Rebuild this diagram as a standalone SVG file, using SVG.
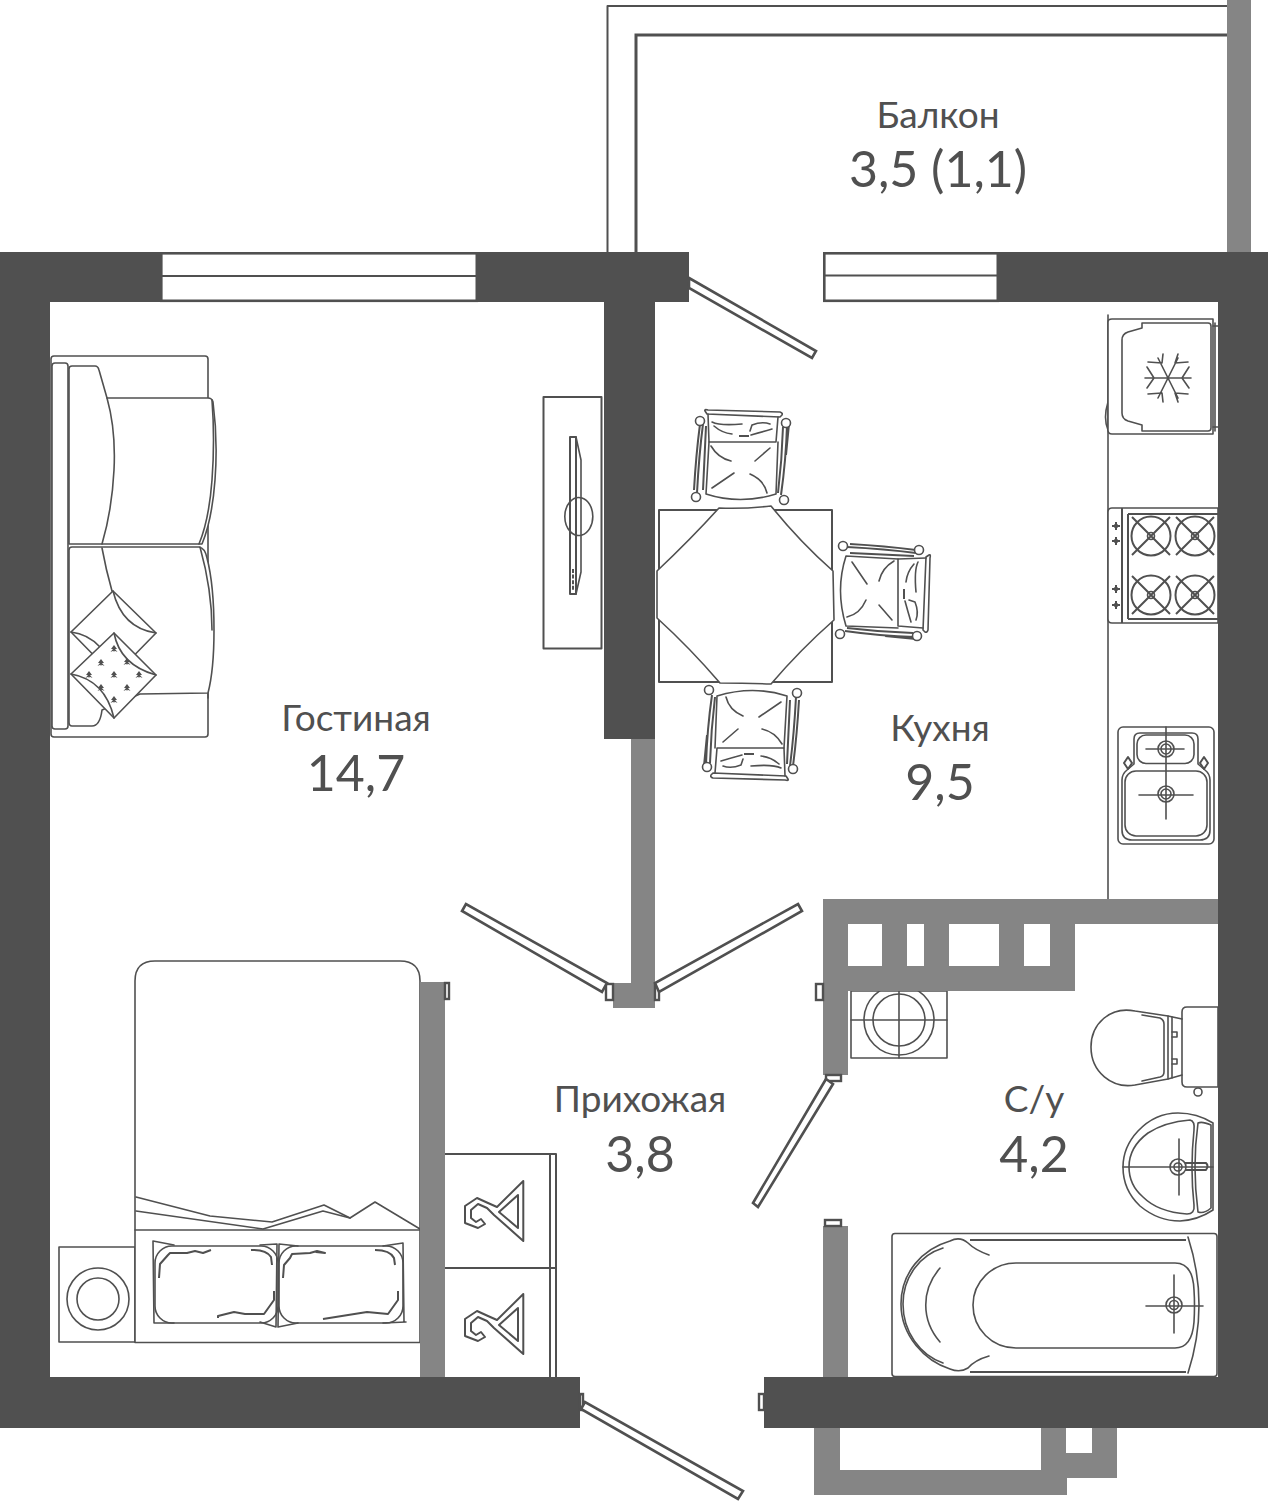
<svg xmlns="http://www.w3.org/2000/svg" xmlns:xlink="http://www.w3.org/1999/xlink" width="1268" height="1502" viewBox="0 0 1268 1502">
<style>
.d{fill:#505050}.g{fill:#858585}
.l{fill:none;stroke:#505050;stroke-width:1.6;stroke-linejoin:round;stroke-linecap:round}
.m{fill:none;stroke:#505050;stroke-width:2;stroke-linejoin:round}
.f{fill:#fff;stroke:#505050;stroke-width:1.6;stroke-linejoin:round}
.w{fill:#fff;stroke:#505050;stroke-width:2.6}
.dr{fill:#fff;stroke:#505050;stroke-width:2.6;stroke-linejoin:miter}
.j{fill:#fff;stroke:#505050;stroke-width:2.4}
.t1{font-family:Lato,"Liberation Sans",sans-serif;font-weight:400;font-size:37px;fill:#505050;text-anchor:middle}
.t2{font-family:Lato,"Liberation Sans",sans-serif;font-weight:400;font-size:50px;fill:#505050;text-anchor:middle}
</style>
<defs>
<g id="chair">
<path class="l" d="M705,411 Q704,409 708,410 L780,412 Q783,413 782,415 L780,417 L707,414 Z" stroke-width="2"/>
<path class="l" d="M708,414 L709,442 H776 L778,417"/>
<path class="l" d="M709,442 L706,494 Q740,505 776,494 L778,442"/>
<path class="m" d="M703,424 Q699,455 697,493 M700,424 Q696,455 694,490 M706,426 L703,490"/>
<path class="m" d="M787,425 Q786,460 781,495 M783,427 Q782,460 778,493 M789,424 L786,455"/>
<circle class="f" cx="700" cy="421" r="4.5"/><circle class="f" cx="786" cy="423" r="4.5"/>
<circle class="f" cx="696" cy="497" r="4.5"/><circle class="f" cx="784" cy="500" r="4.5"/>
<path class="l" d="M712,422 Q720,426 742,424 M714,426 Q722,433 732,434 M752,425 Q762,421 770,424 M751,435 Q762,432 772,429 M750,431 L752,425"/>
<path class="m" d="M739,436 H749" stroke-width="2.4"/>
<path class="l" d="M711,446 Q718,458 731,461 M770,448 L755,461 M734,473 L712,488 M750,474 Q764,480 767,493"/>
</g>
<path id="star" class="d" d="M0,-4 L3,0 L1,0 L3.5,3 L0.7,1.8 L0,3 L-0.7,1.8 L-3.5,3 L-1,0 L-3,0 Z"/>
<g id="hanger">
<path class="m" d="M523.3,1181 L497,1207 L488,1203 L477,1198 L465,1206 L465,1223 L478,1228 L485,1224 L481,1219 L476,1222 L471,1218 L471,1210 L478,1204 L487,1208 L494,1215 L523.3,1241 Z"/>
<path class="m" d="M518,1195 L499,1212 L518,1228 Z"/>
</g>
<g id="knob"><path class="m" d="M-4,0 H4 M0,-4 V4"/><circle class="d" r="2.2"/></g>
<g id="burner"><circle class="m" r="19.500" stroke-width="1.6"/><circle class="l" r="3.5" stroke-width="2"/><path class="m" stroke-width="1.6" d="M-19,-19 L19,19 M-19,19 L19,-19"/></g>
</defs>

<g id="balcony">
<path class="m" stroke="#6a6a6a" d="M607.5,252 V6 H1227"/>
<path fill="none" stroke="#505050" stroke-width="3" d="M636,252 V35 H1227"/>
<rect class="g" x="1227" y="0" width="24" height="252"/>
</g>

<g id="kitchen-furniture">
<path class="l" d="M1108,315 V899"/>
<path class="l" d="M1108,402 Q1103,418 1108,430"/>
<path class="f" d="M1108,322 Q1108,319 1112,319 H1213 V434 H1112 Q1108,434 1108,430 Z"/>
<path class="l" d="M1213,326 H1218 M1213,427 H1218 M1215,323 V431"/>
<path class="l" d="M1142,323 V328 L1128,332 Q1122,334 1122,340 V413 Q1122,419 1128,421 L1142,425 V431 H1208 Q1211,431 1211,428 V326 Q1211,323 1208,323 Z"/>
<path class="l" d="M1145,378 H1191 M1158,358 L1178,398 M1178,358 L1158,398 M1147,367 L1154,378 L1147,388 M1189,367 L1182,378 L1189,388 M1148,362 L1162,363 L1163,354 M1178,354 L1175,363 L1188,362 M1148,394 L1162,393 L1163,402 M1178,402 L1175,393 L1188,394"/>
<path class="f" d="M1112,508 H1218 V623 H1112 Q1108,623 1108,619 V512 Q1108,508 1112,508 Z"/>
<path class="m" d="M1122,508 V623 M1128,514 V619 M1128,514 H1218 M1128,619 H1218"/>
<use href="#burner" x="1151" y="536"/><use href="#burner" x="1195" y="536"/>
<use href="#burner" x="1151" y="595"/><use href="#burner" x="1195" y="595"/>
<use href="#knob" x="1116" y="526"/><use href="#knob" x="1116" y="541"/>
<use href="#knob" x="1116" y="589"/><use href="#knob" x="1116" y="605"/>
<rect class="f" x="1118" y="727" width="96" height="117" rx="5"/>
<path class="l" d="M1134,739 Q1134,733 1140,733 H1192 Q1198,733 1198,739 V764 L1205,770 Q1210,774 1210,780 V830 Q1210,840 1200,840 H1132 Q1122,840 1122,830 V780 Q1122,774 1127,770 L1134,764 Z"/>
<rect class="l" x="1137" y="735" width="57" height="28.5" rx="9"/>
<rect class="l" x="1125" y="771" width="82" height="65" rx="11"/>
<path class="l" d="M1166,727 V819 M1146,749 H1184 M1139,795 H1193"/>
<circle class="l" cx="1166" cy="749" r="8"/><circle class="l" cx="1166" cy="749" r="5"/>
<circle class="l" cx="1166" cy="794" r="8"/><circle class="l" cx="1166" cy="794" r="5"/>
<path class="m" d="M1128,757 L1132,763 L1128,769 L1124,763 Z M1204,757 L1208,763 L1204,769 L1200,763 Z" stroke-width="1.4"/>
</g>

<g id="table">
<rect class="m" x="659" y="510" width="173" height="172"/>
<path class="f" d="M719,508 Q745,509 771,506 Q800,542 833,571 L834,620 Q800,650 771,684 Q745,683 720,683 Q690,648 657,618 L657,571 Q690,540 719,508 Z"/>
</g>
<g id="chairs">
<use href="#chair"/>
<use href="#chair" transform="rotate(90 885 593) translate(142 138)"/>
<use href="#chair" transform="rotate(180 749.500 736) translate(6 282)"/>
</g>

<g id="sofa">
<rect class="f" x="51" y="356" width="157" height="381" rx="3"/>
<rect class="f" x="52" y="363" width="16" height="366" rx="3"/>
<path class="f" d="M107,398 H208 Q212,398 213,402 Q218,440 215,480 Q212,520 202,544 H69 V369 Q69,366 72,366 H95 Q98,366 99,370 Z"/>
<path class="l" d="M107,398 Q116,430 114,470 Q112,510 102,544 M212,400 Q215,440 212,480 Q209,520 199,544"/>
<path class="f" d="M72,547 H199 Q205,548 207,558 Q214,585 214,630 Q214,670 208,693 L140,694 L102,710 Q100,726 92,726 H72 Q69,726 69,722 V550 Q69,547 72,547 Z"/>
<path class="l" d="M102,548 Q106,570 112,591 M200,547 Q212,590 212,630"/>
<path class="l" d="M208,694 V698"/>
<path class="f" d="M113,591 L156,633 L114,676 L71,632 Z"/>
<path class="l" d="M113,591 Q122,628 156,633 M71,632 Q88,634 100,647"/>
<path class="f" d="M114,633 L156,675 L114,718 L71,674 Z"/>
<path class="l" d="M114,633 Q120,665 156,675 M71,674 Q105,680 114,718"/>
<use href="#star" x="114" y="649"/><use href="#star" x="101" y="663"/><use href="#star" x="127" y="662"/>
<use href="#star" x="89" y="675"/><use href="#star" x="114" y="675"/><use href="#star" x="139" y="675"/>
<use href="#star" x="101" y="688"/><use href="#star" x="127" y="688"/><use href="#star" x="114" y="700"/>
</g>

<g id="tv">
<rect class="m" x="543.5" y="397" width="58" height="251.5"/>
<path class="m" d="M570,437 H576 V594 H570 Z"/>
<path class="l" d="M576,437 L581,460 V572 L576,594"/>
<path class="m" stroke-width="2.4" d="M576,440 V452"/>
<path class="l" d="M582,498 A 14,19 0 1 0 582,535 A 14,19 0 0 0 582,498 Z"/>
<path class="m" stroke-width="2.4" stroke-dasharray="4 1.6" d="M573,569 V590"/>
</g>

<g id="bed">
<rect class="f" x="59" y="1247" width="76" height="95"/>
<circle class="l" cx="98" cy="1299" r="31"/><circle class="l" cx="98" cy="1299" r="21"/>
<path class="f" d="M135,1342.500 V981 Q135,961 155,961 H400 Q420,961 420,981 V1342.500 Z"/>
<path class="l" d="M135,1230 H420"/>
<path class="l" d="M136,1197 L210,1216 L272,1222 L324,1205 L350,1218 L375,1202 L420,1229"/>
<path class="l" d="M136,1211 L263,1229 L323,1211 L350,1218"/>
<rect class="l" x="155" y="1246" width="123" height="77" rx="17"/>
<rect class="l" x="279" y="1246" width="124" height="77" rx="17"/>
<path class="l" d="M174,1245 L153,1241 L154,1323 H174 M277,1244 L260,1245 M277,1244 L276,1327 L260,1322 M279,1244 L298,1246 M278,1327 L298,1323 M403,1243 L383,1246 M404,1322 L403,1243 M406,1322 L383,1323 M279,1244 L278,1327"/>
<path class="m" stroke-width="1.6" d="M159,1278 L160,1264 L168,1255 L170,1253 L187,1253 L195,1251 L203,1253 L211,1250 M251,1250 Q266,1249 271,1257 L272,1265 M274,1291 V1300 L264,1314 H245 L234,1312 L218,1316 L218,1318 M283,1278 L284,1265 L290,1258 L292,1254 L310,1253 L317,1251 L325,1253 L316,1252 M375,1250 Q390,1250 394,1258 L395,1265 M398,1291 V1300 L388,1314 L367,1312 L323,1319"/>
</g>

<g id="wardrobe">
<path class="m" d="M445,1154 H556 V1377 M550,1154 V1377 M445,1268 H556"/>
<use href="#hanger"/>
<use href="#hanger" y="113"/>
</g>

<g id="bathroom">
<rect class="f" x="851" y="991" width="96" height="67"/>
<circle class="l" cx="899" cy="1020" r="35"/><circle class="l" cx="899" cy="1020" r="26"/>
<path class="l" d="M851,1020 H947 M899,991 V1058"/>
<path class="f" d="M1182,1012 Q1182,1007 1187,1007 H1218 V1087 H1187 Q1182,1087 1182,1082 Z"/>
<circle class="l" cx="1198" cy="1092" r="4"/>
<path class="l" d="M1135,1011 L1168,1016 L1182,1019 M1135,1085 L1168,1079 L1182,1075 M1135,1011 C1110,1006 1091,1024 1091,1047 C1091,1072 1112,1089 1135,1085"/>
<path class="l" d="M1142,1015 L1160,1018 Q1164,1020 1164,1024 V1072 Q1164,1076 1160,1077 L1142,1081 M1168,1016 V1079 M1172,1017 V1078"/>
<path class="l" d="M1172,1032 H1177 V1037 H1172 M1172,1059 H1177 V1064 H1172"/>
<path class="f" d="M1213,1123 Q1197,1113 1178,1113 Q1155,1113 1138,1131 Q1123,1147 1123,1167 Q1123,1190 1140,1206 Q1158,1221 1180,1221 Q1198,1220 1213,1210 Z"/>
<path class="l" d="M1190,1120 Q1165,1122 1148,1133 Q1129,1147 1129,1167 Q1129,1185 1143,1197 Q1158,1212 1187,1214 Q1195,1214 1194,1205 Q1190,1168 1194,1130 Q1195,1121 1190,1120 Z"/>
<path class="l" d="M1198,1123 Q1202,1121 1211,1125 V1208 Q1204,1214 1198,1212 Q1192,1166 1198,1123 Z"/>
<path class="l" d="M1123,1167 H1213 M1179,1139 V1195"/>
<circle class="l" cx="1178" cy="1167" r="8"/><circle class="l" cx="1178" cy="1167" r="4"/>
<path class="m" stroke-width="1.6" d="M1185,1163 H1206 Q1209,1166 1206,1170 H1185"/>
<rect class="f" x="892" y="1233.500" width="325" height="143" rx="3"/>
<path class="l" d="M943,1248 C920,1255 903,1277 903,1304 C903,1332 920,1355 943,1363"/>
<path class="l" d="M989,1255 Q975,1250 968,1243 Q960,1236 950,1241 C922,1249 901,1273 901,1304 C901,1336 925,1361 950,1369 Q960,1373 968,1368 Q975,1360 989,1356"/>
<path class="l" d="M940,1268 C921,1290 921,1320 940,1342"/>
<path class="l" d="M1016,1263 H1175 Q1193,1263 1194,1290 Q1195,1305 1194,1322 Q1192,1348 1175,1348 H1016 C992,1348 973,1329 973,1305 C973,1282 992,1263 1016,1263 Z"/>
<path class="l" d="M1188,1237 Q1210,1305 1188,1373"/>
<path class="m" stroke-width="1.6" d="M970,1240 H1186 M970,1372 H1186"/>
<path class="l" d="M1146,1306 H1203 M1174,1275 V1333"/>
<circle class="l" cx="1174" cy="1305" r="8"/><circle class="l" cx="1174" cy="1305" r="4.500"/>
</g>

<g id="walls-light">
<path class="g" fill-rule="evenodd" d="M823,899 H1218 V924 H1075 V991 H848 V1075 H823 Z M848,924 V966 H882 V924 Z M907,924 V966 H924 V924 Z M949,924 V966 H999 V924 Z M1024,924 V966 H1050 V924 Z"/>
<rect class="g" x="631" y="739" width="24" height="245"/>
<rect class="g" x="613" y="983" width="42" height="25"/>
<rect class="g" x="420" y="982" width="25" height="396"/>
<rect class="g" x="823" y="1226" width="25" height="152"/>
<path class="g" fill-rule="evenodd" d="M814,1427 H1117 V1478 H1067 V1495 H814 Z M840,1427 V1470 H1041 V1427 Z M1066,1427 V1453 H1092 V1427 Z"/>
</g>

<g id="walls-dark">
<path class="d" d="M0,252 H160 V302 H50 V1377 H580 V1428 H0 Z"/>
<path class="d" d="M478,252 H689 V302 H655 V739 H604 V302 H478 Z"/>
<path class="d" d="M998,252 H1268 V1428 H764 V1377 H1218 V302 H998 Z"/>
</g>

<g id="windows">
<rect class="w" x="161.300" y="253.300" width="315.500" height="47.500"/>
<path class="m" stroke-width="2.6" d="M161,276 H477"/>
<rect class="w" x="824.300" y="253.300" width="173.500" height="47.500"/>
<path class="m" stroke-width="2.6" d="M824,275.500 H998"/>
</g>

<g id="doors">
<polygon class="dr" points="689,278 816,351 812,358 689,288"/>
<rect class="j" x="606" y="984" width="7" height="16"/>
<polygon class="dr" points="466,904 462,911 602,992 607,983"/>
<rect class="j" x="655" y="984" width="4" height="16"/>
<polygon class="dr" points="798,904 802,911 659,992 655,983"/>
<rect class="j" x="816" y="984" width="7" height="16"/>
<rect class="j" x="445" y="983" width="4" height="16"/>
<rect class="j" x="826" y="1075" width="15" height="6"/>
<polygon class="dr" points="826,1079 833,1084 758,1207 753,1203"/>
<rect class="j" x="825" y="1220" width="16" height="6"/>
<rect class="j" x="759" y="1394" width="5" height="16"/>
<rect class="j" x="580" y="1394" width="3" height="16"/>
<polygon class="dr" points="585,1402 581,1409 738,1499 743,1491"/>
</g>

<g id="labels">
<text class="t1" x="938" y="128">Балкон</text>
<text class="t2" x="938" y="187">3,5 (1,1)</text>
<text class="t1" x="356" y="731">Гостиная</text>
<text class="t2" x="356" y="791">14,7</text>
<text class="t1" x="940" y="741">Кухня</text>
<text class="t2" x="940" y="800">9,5</text>
<text class="t1" x="640" y="1112">Прихожая</text>
<text class="t2" x="640" y="1172">3,8</text>
<text class="t1" x="1034" y="1112">С/у</text>
<text class="t2" x="1034" y="1172">4,2</text>
</g>
</svg>
